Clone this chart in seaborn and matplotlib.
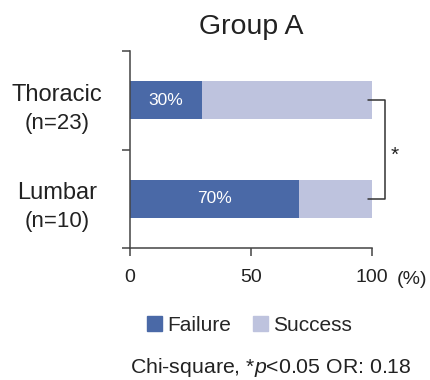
import numpy as np
import matplotlib
matplotlib.use("Agg")
import matplotlib.pyplot as plt
import matplotlib.transforms as mtransforms
from matplotlib.patches import Patch
import seaborn as sns
import pandas as pd

# data
categories = ["Thoracic", "Lumbar"]
n_labels = ["(n=23)", "(n=10)"]
failure = [30, 70]
success = [70, 30]
series_names = ["Failure", "Success"]
xticks = [0, 50, 100]

sns.set_style("white")
plt.rcParams["font.family"] = ["Liberation Sans", "DejaVu Sans"]
plt.rcParams["mathtext.fontset"] = "custom"
plt.rcParams["mathtext.rm"] = "Liberation Sans"
plt.rcParams["mathtext.it"] = "Liberation Sans:italic"

c_fail = "#4a69a7"
c_succ = "#bec3de"
ink = "#222222"
axis_col = "#444444"

df = pd.DataFrame({"cat": categories, "fail": failure,
                   "total": np.array(failure) + np.array(success)})

fig = plt.figure(figsize=(4.3, 3.8), dpi=100)
ax = fig.add_axes([0.302, 0.347, 0.563, 0.519])

# full bar (success) underneath, failure part drawn on top
sns.barplot(data=df, x="total", y="cat", orient="h", color=c_succ,
            width=0.38, saturation=1, linewidth=0, ax=ax)
sns.barplot(data=df, x="fail", y="cat", orient="h", color=c_fail,
            width=0.38, saturation=1, linewidth=0, ax=ax)

ax.set_xlim(0, 100)
ax.set_ylim(1.5, -0.5)
ax.set_xticks(xticks)
ax.set_xticklabels([str(t) for t in xticks], fontsize=14, color=ink)
ax.set_yticks([-0.5, 0.5, 1.5])
ax.set_yticklabels([])
ax.set_xlabel("")
ax.set_ylabel("")
ax.tick_params(axis="both", direction="out", length=6, width=1.1,
               color=axis_col, bottom=True, left=True, pad=9)
for s in ["top", "right"]:
    ax.spines[s].set_visible(False)
for s in ["left", "bottom"]:
    ax.spines[s].set_color(axis_col)
    ax.spines[s].set_linewidth(1.1)

# percent labels inside failure segment
for i, f in enumerate(failure):
    ax.text(f / 2, i, f"{f}%", ha="center", va="center", color="white",
            fontsize=12.5)

# category labels
trans = mtransforms.blended_transform_factory(ax.transAxes, ax.transData)
for i, (c, nl) in enumerate(zip(categories, n_labels)):
    ax.text(-0.30, i + 0.005, c, transform=trans, ha="center", va="baseline",
            fontsize=17, color=ink)
    ax.text(-0.30, i + 0.29, nl, transform=trans, ha="center", va="baseline",
            fontsize=16, color=ink)

# significance bracket
ax.plot([98.3, 105.4, 105.4, 98.3], [0, 0, 1, 1], color="#333333",
        lw=1.1, clip_on=False)
ax.text(109.5, 0.61, "*", ha="center", va="baseline", fontsize=15, color=ink,
        clip_on=False)

# unit label
ax.text(116.5, -0.183, "(%)", transform=mtransforms.blended_transform_factory(
    ax.transData, ax.transAxes), ha="center", va="baseline", fontsize=14,
    color=ink)

ax.set_title("Group A", fontsize=20.5, color=ink, pad=12)

handles = [Patch(color=c_fail), Patch(color=c_succ)]
fig.legend(handles, series_names, loc="center", bbox_to_anchor=(0.581, 0.143),
           ncol=2, frameon=False, fontsize=15, handlelength=0.72,
           handleheight=0.72, handletextpad=0.25, columnspacing=1.05)

fig.text(0.630, 0.032, "Chi-square, *$p$<0.05 OR: 0.18", ha="center",
         va="center", fontsize=15.3, color=ink)

fig.savefig("out.png", dpi=100)
